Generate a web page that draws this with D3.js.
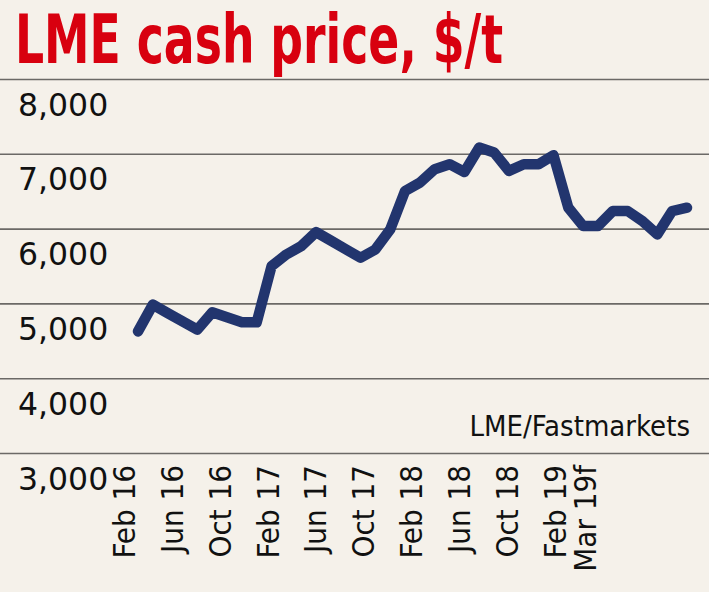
<!DOCTYPE html>
<html>
<head>
<meta charset="utf-8">
<script src="https://d3js.org/d3.v7.min.js"></script>
<style>
  body { margin: 0; background: #f5f1ea; }
  svg { display: block; }
</style>
</head>
<body>
<div id="chart"></div>
<script>
// monthly LME cash price, Feb 2016 .. Mar 2019 (last value is a forecast)
var months = ["Feb 16", "Mar 16", "Apr 16", "May 16", "Jun 16", "Jul 16", "Aug 16", "Sep 16",
  "Oct 16", "Nov 16", "Dec 16", "Jan 17", "Feb 17", "Mar 17", "Apr 17", "May 17", "Jun 17",
  "Jul 17", "Aug 17", "Sep 17", "Oct 17", "Nov 17", "Dec 17", "Jan 18", "Feb 18", "Mar 18",
  "Apr 18", "May 18", "Jun 18", "Jul 18", "Aug 18", "Sep 18", "Oct 18", "Nov 18", "Dec 18",
  "Jan 19", "Feb 19", "Mar 19f"];
var prices = [4626, 4984, 4870, 4760, 4649, 4881, 4814, 4747,
  4747, 5497, 5654, 5765, 5953, 5839, 5724, 5610, 5721,
  5989, 6503, 6615, 6794, 6861, 6757, 7084, 7017, 6771,
  6861, 6861, 6981, 6280, 6034, 6034, 6235, 6235, 6101,
  5922, 6235, 6280];
var tickLabels = ["Feb 16", "Jun 16", "Oct 16", "Feb 17", "Jun 17", "Oct 17",
  "Feb 18", "Jun 18", "Oct 18", "Feb 19", "Mar 19f"];
var yTicks = [3000, 4000, 5000, 6000, 7000, 8000];

var W = 709, H = 592;

var svg = d3.select("#chart").append("svg")
  .attr("width", W)
  .attr("height", H);

svg.append("rect")
  .attr("width", W)
  .attr("height", H)
  .attr("fill", "#f5f1ea");

// title
svg.append("text")
  .attr("x", 15)
  .attr("y", 63)
  .attr("textLength", 488)
  .attr("lengthAdjust", "spacingAndGlyphs")
  .style("font-family", "'Liberation Sans Narrow', 'DejaVu Sans Condensed', sans-serif")
  .style("font-weight", "bold")
  .style("font-size", "68px")
  .attr("fill", "#d8000f")
  .text("LME cash price, $/t");

// scales
var y = d3.scaleLinear()
  .domain([3000, 8000])
  .range([453, 79]);

var x = d3.scalePoint()
  .domain(months)
  .range([138, 687]);

// the labels are spread a little tighter than the line itself
var xLabel = d3.scalePoint()
  .domain(months.slice(0, 37))
  .range([124, 555]);

// y axis: full width gridlines, labels under each line
var yAxis = svg.append("g")
  .call(d3.axisRight(y).tickValues(yTicks).tickSize(W).tickFormat(d3.format(",")));

yAxis.select(".domain").remove();
yAxis.selectAll(".tick line")
  .attr("stroke", "#6b6966")
  .attr("stroke-width", 1.6);
yAxis.selectAll(".tick text")
  .attr("x", 18)
  .attr("dy", 36)
  .attr("text-anchor", "start")
  .attr("fill", "#111")
  .style("font-family", "'DejaVu Sans', sans-serif")
  .style("font-size", "31.5px");

// x labels, rotated
svg.append("g")
  .selectAll("text")
  .data(tickLabels)
  .enter()
  .append("text")
  .attr("transform", function(d) {
    var px = d == "Mar 19f" ? xLabel("Feb 19") + 30 : xLabel(d);
    return "translate(" + px + ",465) rotate(-90)";
  })
  .attr("dy", "0.35em")
  .attr("text-anchor", "end")
  .attr("fill", "#111")
  .style("font-family", "'Liberation Sans Narrow', 'DejaVu Sans Condensed', sans-serif")
  .style("font-size", "31px")
  .text(function(d) { return d; });

// source
svg.append("text")
  .attr("x", 690)
  .attr("y", 436)
  .attr("text-anchor", "end")
  .attr("fill", "#111")
  .style("font-family", "'Liberation Sans Narrow', 'DejaVu Sans Condensed', sans-serif")
  .style("font-size", "29px")
  .text("LME/Fastmarkets");

// price line
var line = d3.line()
  .x(function(d, i) { return x(months[i]); })
  .y(function(d) { return y(d); });

svg.append("path")
  .datum(prices)
  .attr("d", line)
  .attr("fill", "none")
  .attr("stroke", "#22356e")
  .attr("stroke-width", 10.5)
  .attr("stroke-linejoin", "round")
  .attr("stroke-linecap", "round");
</script>
</body>
</html>
